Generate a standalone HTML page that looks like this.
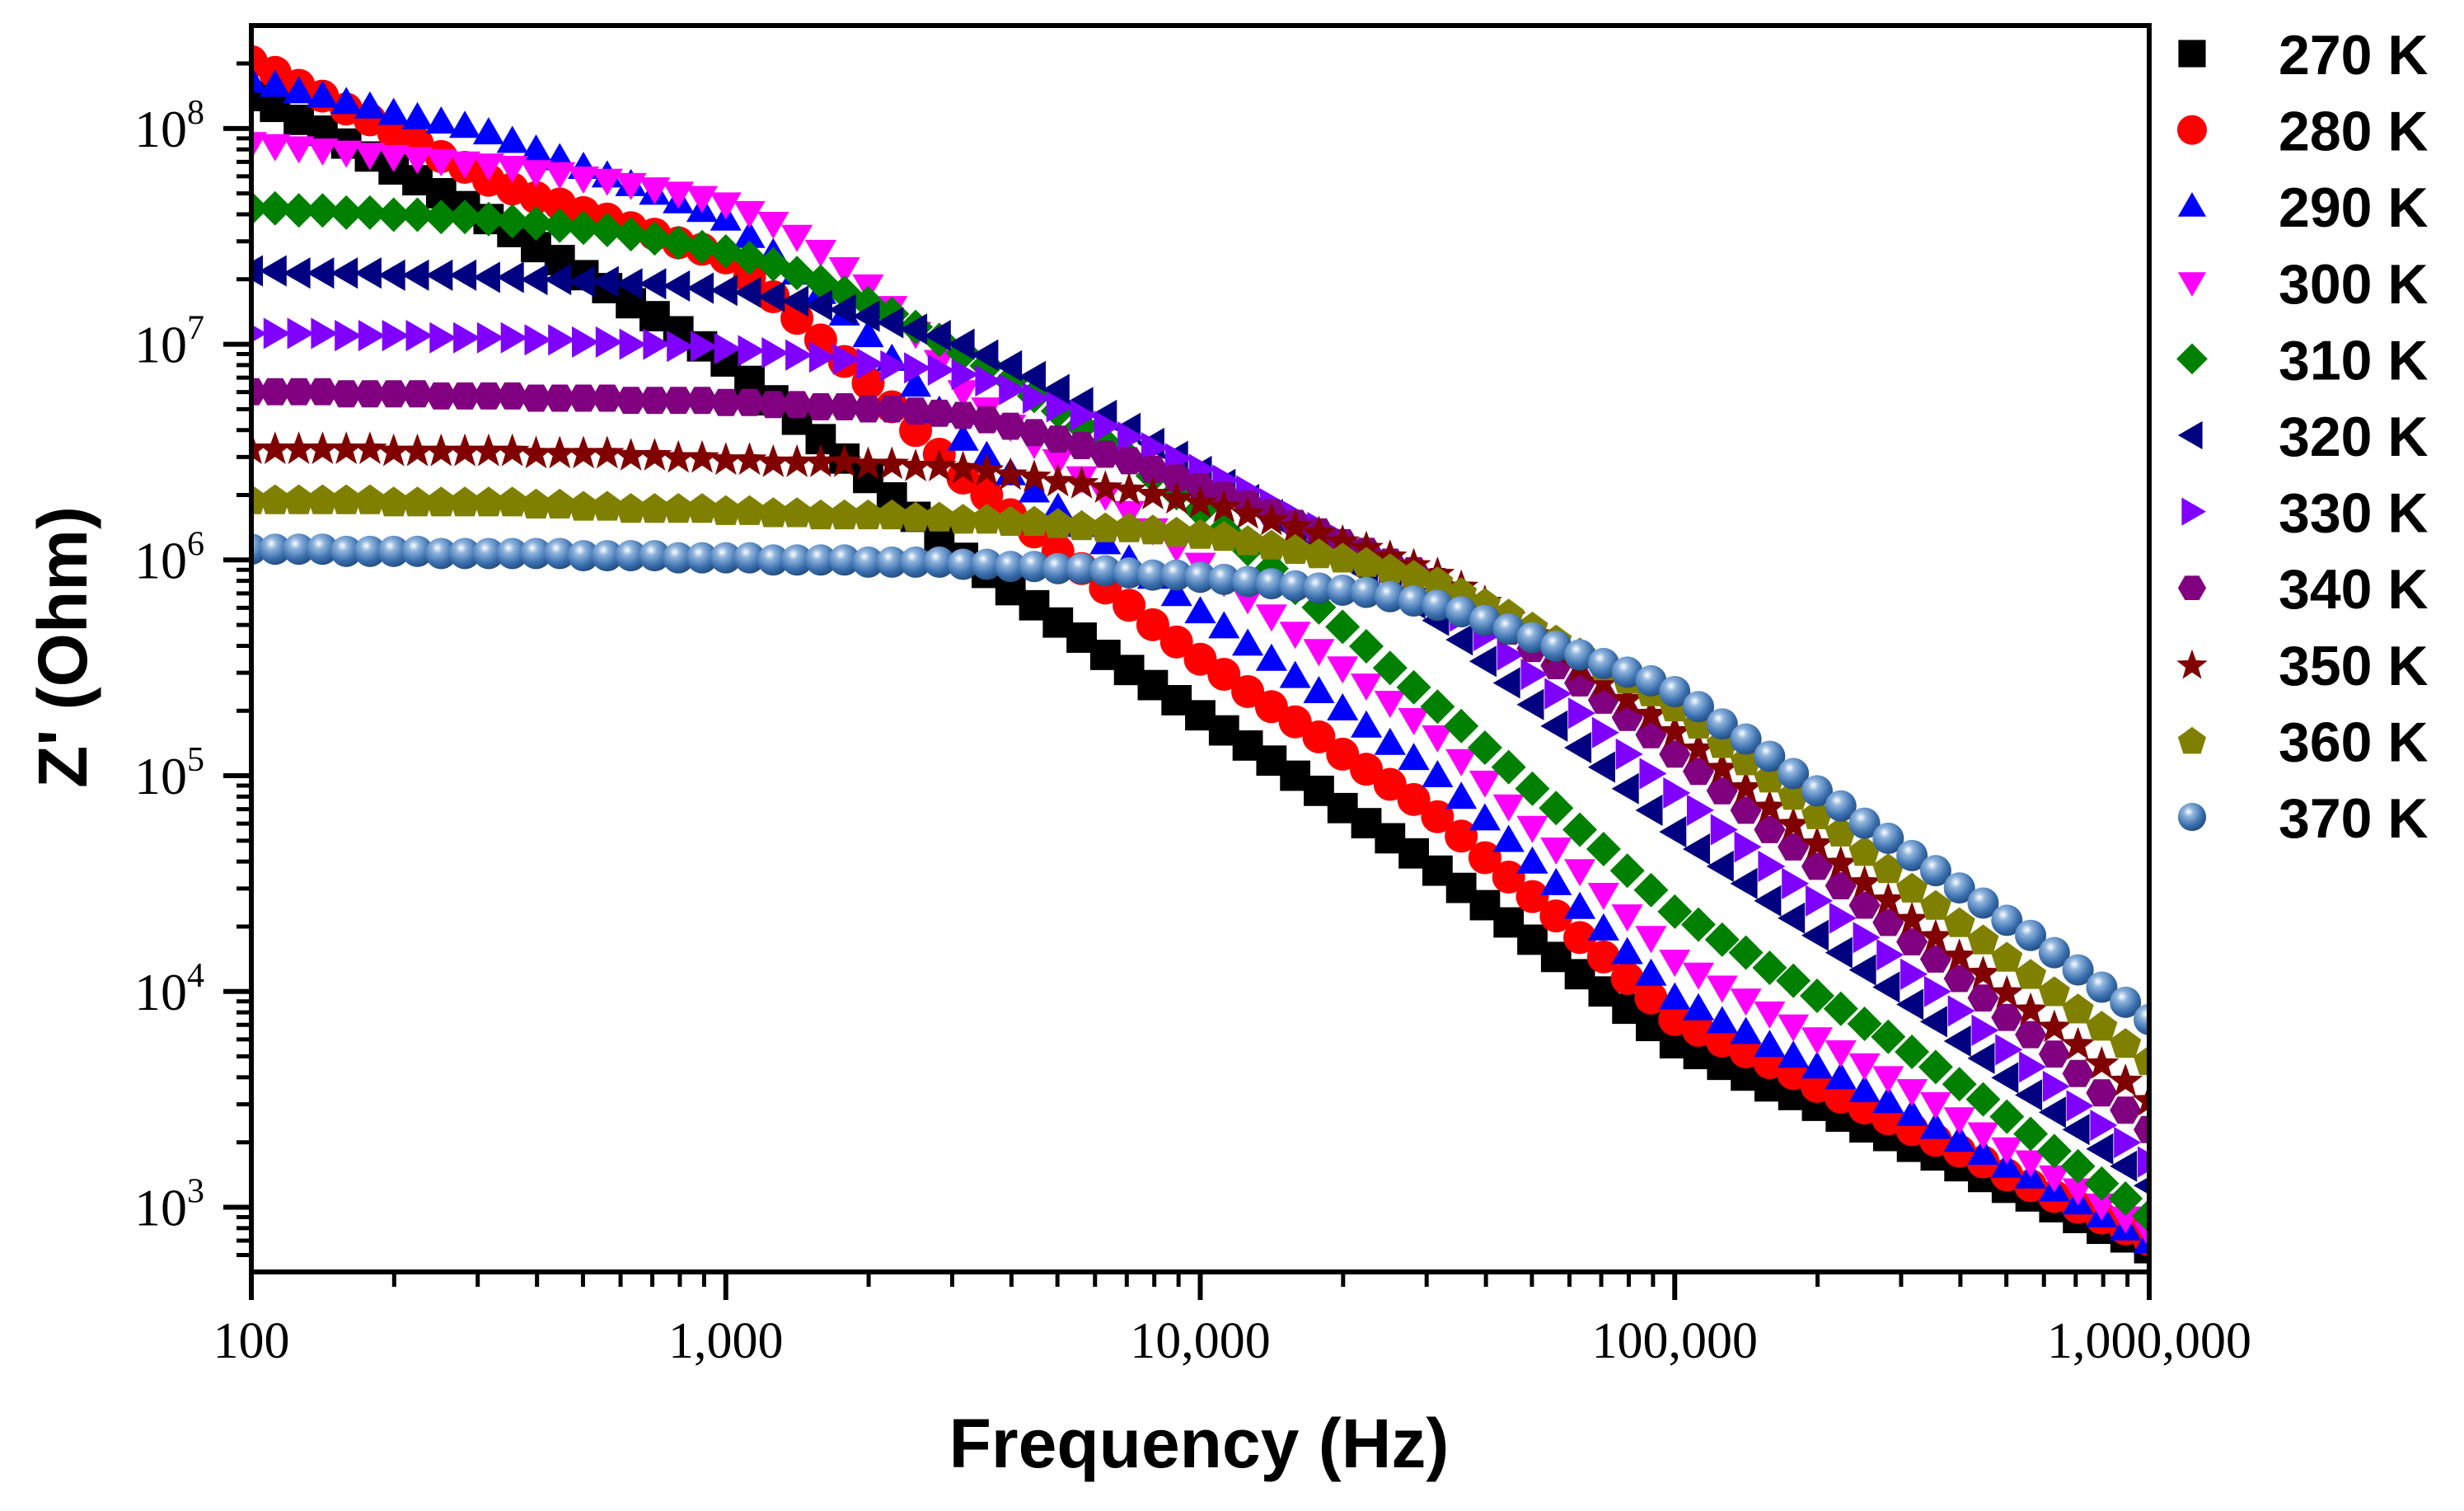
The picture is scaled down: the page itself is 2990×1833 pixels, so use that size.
<!DOCTYPE html>
<html><head><meta charset="utf-8"><style>
html,body{margin:0;padding:0;background:#fff;}
svg{display:block;}
</style></head><body>
<svg id="chart" width="2990" height="1833" viewBox="0 0 2990 1833" xmlns="http://www.w3.org/2000/svg">
<defs>
<radialGradient id="sph" cx="0.38" cy="0.32" r="0.7">
<stop offset="0" stop-color="#ffffff"/><stop offset="0.25" stop-color="#8fb4dd"/><stop offset="0.7" stop-color="#3a6fae"/><stop offset="1" stop-color="#234d80"/>
</radialGradient>
</defs>
<g id="plot"></g>
<g id="axes"></g>
<g id="legend"></g>
<text x="1455" y="1780" text-anchor="middle" font-family="Liberation Sans, sans-serif" font-weight="bold" font-size="84">Frequency (Hz)</text>
<text transform="translate(105,785) rotate(-90)" text-anchor="middle" font-family="Liberation Sans, sans-serif" font-weight="bold" font-size="84">Z' (Ohm)</text>
</svg>
<script>
// ---- data (log10 frequency grid start/step; log10 Z' values) ----
const freqLogStart = 2.0;
const freqLogStep = 0.05;
const seriesLabels = ["270 K","280 K","290 K","300 K","310 K","320 K","330 K","340 K","350 K","360 K","370 K"];
const z270 = [8.15,8.10,8.04,7.99,7.93,7.87,7.81,7.76,7.70,7.64,7.58,7.52,7.45,7.39,7.32,7.26,7.19,7.13,7.06,6.99,6.92,6.83,6.74,6.65,6.56,6.47,6.38,6.29,6.20,6.11,6.01,5.94,5.86,5.79,5.71,5.64,5.56,5.49,5.42,5.35,5.28,5.21,5.14,5.07,5.00,4.93,4.85,4.78,4.71,4.64,4.56,4.48,4.40,4.32,4.24,4.16,4.08,4.00,3.92,3.84,3.76,3.71,3.66,3.61,3.56,3.52,3.47,3.42,3.37,3.33,3.28,3.24,3.19,3.14,3.09,3.05,3.00,2.95,2.90,2.86,2.81];
const z280 = [8.31,8.26,8.20,8.15,8.09,8.04,7.98,7.93,7.87,7.82,7.76,7.72,7.68,7.65,7.61,7.58,7.54,7.51,7.47,7.44,7.40,7.31,7.22,7.12,7.02,6.92,6.82,6.71,6.60,6.49,6.38,6.30,6.21,6.13,6.04,5.96,5.87,5.79,5.70,5.62,5.54,5.47,5.39,5.32,5.25,5.18,5.10,5.03,4.96,4.89,4.81,4.72,4.62,4.53,4.44,4.35,4.25,4.16,4.06,3.97,3.87,3.82,3.77,3.72,3.67,3.62,3.56,3.51,3.46,3.41,3.36,3.31,3.26,3.21,3.15,3.10,3.05,3.00,2.95,2.90,2.85];
const z290 = [8.22,8.20,8.17,8.15,8.12,8.10,8.07,8.05,8.03,8.01,7.98,7.94,7.90,7.86,7.82,7.78,7.74,7.70,7.66,7.62,7.58,7.50,7.42,7.33,7.24,7.14,7.04,6.93,6.81,6.69,6.56,6.48,6.40,6.32,6.24,6.16,6.08,6.00,5.92,5.84,5.76,5.69,5.61,5.54,5.46,5.39,5.31,5.23,5.15,5.08,5.00,4.90,4.80,4.70,4.60,4.50,4.39,4.29,4.18,4.08,3.97,3.92,3.86,3.81,3.75,3.70,3.65,3.60,3.54,3.49,3.43,3.37,3.31,3.25,3.19,3.14,3.08,3.02,2.96,2.90,2.84];
const z300 = [7.93,7.92,7.91,7.90,7.89,7.88,7.87,7.86,7.85,7.84,7.83,7.82,7.80,7.79,7.77,7.76,7.74,7.72,7.70,7.68,7.65,7.61,7.56,7.50,7.43,7.35,7.27,7.17,7.05,6.92,6.78,6.70,6.62,6.54,6.46,6.38,6.30,6.22,6.14,6.06,5.98,5.90,5.82,5.74,5.66,5.58,5.50,5.42,5.34,5.26,5.18,5.07,4.97,4.86,4.76,4.66,4.56,4.45,4.35,4.25,4.14,4.08,4.02,3.96,3.90,3.84,3.78,3.72,3.66,3.60,3.54,3.48,3.41,3.34,3.27,3.21,3.14,3.08,3.01,2.95,2.88];
const z310 = [7.63,7.63,7.62,7.62,7.61,7.61,7.60,7.60,7.59,7.59,7.58,7.57,7.56,7.55,7.54,7.53,7.51,7.49,7.47,7.45,7.43,7.40,7.37,7.33,7.29,7.24,7.19,7.14,7.08,7.02,6.96,6.90,6.83,6.76,6.69,6.62,6.54,6.47,6.39,6.31,6.23,6.14,6.05,5.96,5.87,5.78,5.69,5.60,5.50,5.41,5.32,5.23,5.13,5.04,4.94,4.85,4.75,4.66,4.56,4.47,4.37,4.31,4.24,4.18,4.11,4.05,3.98,3.92,3.85,3.79,3.72,3.65,3.57,3.50,3.42,3.34,3.26,3.19,3.11,3.04,2.96];
const z320 = [7.34,7.34,7.33,7.33,7.33,7.33,7.32,7.32,7.32,7.32,7.31,7.31,7.30,7.30,7.29,7.29,7.28,7.28,7.27,7.26,7.25,7.24,7.22,7.20,7.18,7.16,7.13,7.10,7.07,7.04,7.00,6.95,6.90,6.85,6.79,6.73,6.67,6.61,6.54,6.48,6.41,6.35,6.28,6.21,6.14,6.08,6.01,5.94,5.87,5.80,5.72,5.63,5.53,5.43,5.33,5.23,5.13,5.04,4.94,4.84,4.74,4.66,4.58,4.50,4.42,4.34,4.26,4.18,4.10,4.02,3.94,3.86,3.77,3.69,3.60,3.52,3.44,3.36,3.27,3.19,3.10];
const z330 = [7.05,7.05,7.05,7.05,7.04,7.04,7.04,7.04,7.03,7.03,7.03,7.03,7.02,7.02,7.01,7.01,7.00,7.00,6.99,6.99,6.98,6.97,6.96,6.95,6.94,6.93,6.91,6.90,6.89,6.88,6.86,6.83,6.79,6.75,6.71,6.67,6.62,6.57,6.52,6.47,6.42,6.37,6.32,6.26,6.20,6.15,6.09,6.03,5.96,5.90,5.83,5.74,5.65,5.56,5.47,5.38,5.29,5.20,5.10,5.01,4.92,4.84,4.75,4.67,4.58,4.50,4.42,4.34,4.25,4.17,4.08,4.00,3.91,3.82,3.73,3.65,3.56,3.47,3.38,3.30,3.21];
const z340 = [6.78,6.78,6.78,6.78,6.77,6.77,6.77,6.77,6.76,6.76,6.76,6.76,6.75,6.75,6.75,6.75,6.74,6.74,6.74,6.74,6.73,6.73,6.72,6.72,6.71,6.71,6.70,6.70,6.69,6.68,6.67,6.65,6.62,6.59,6.56,6.53,6.49,6.46,6.42,6.38,6.34,6.30,6.26,6.22,6.17,6.13,6.08,6.04,5.99,5.95,5.90,5.83,5.75,5.67,5.59,5.51,5.43,5.35,5.27,5.19,5.10,5.02,4.93,4.84,4.75,4.67,4.58,4.49,4.40,4.32,4.23,4.15,4.06,3.97,3.88,3.80,3.71,3.62,3.53,3.45,3.36];
const z350 = [6.52,6.52,6.52,6.52,6.52,6.52,6.51,6.51,6.51,6.51,6.51,6.51,6.50,6.50,6.50,6.50,6.49,6.49,6.48,6.48,6.47,6.47,6.46,6.46,6.46,6.46,6.45,6.45,6.44,6.44,6.43,6.42,6.40,6.39,6.37,6.36,6.34,6.33,6.31,6.29,6.27,6.25,6.22,6.19,6.16,6.13,6.09,6.06,6.02,5.98,5.94,5.88,5.81,5.74,5.66,5.59,5.51,5.44,5.36,5.29,5.21,5.13,5.04,4.95,4.86,4.78,4.69,4.60,4.51,4.43,4.34,4.26,4.17,4.09,4.00,3.92,3.84,3.76,3.67,3.59,3.50];
const z360 = [6.28,6.28,6.28,6.28,6.28,6.28,6.27,6.27,6.27,6.27,6.27,6.27,6.26,6.26,6.25,6.25,6.24,6.24,6.24,6.24,6.23,6.23,6.22,6.22,6.21,6.21,6.21,6.21,6.20,6.20,6.19,6.19,6.18,6.18,6.17,6.16,6.15,6.15,6.14,6.13,6.12,6.11,6.09,6.07,6.05,6.03,6.01,5.99,5.96,5.93,5.90,5.85,5.80,5.75,5.69,5.63,5.57,5.51,5.45,5.39,5.32,5.24,5.15,5.07,4.99,4.91,4.82,4.74,4.65,4.57,4.48,4.40,4.32,4.24,4.16,4.08,4.00,3.92,3.84,3.76,3.68];
const z370 = [6.05,6.05,6.05,6.05,6.04,6.04,6.04,6.04,6.03,6.03,6.03,6.03,6.03,6.03,6.02,6.02,6.02,6.02,6.01,6.01,6.01,6.01,6.00,6.00,6.00,6.00,5.99,5.99,5.99,5.99,5.98,5.98,5.97,5.97,5.96,5.96,5.95,5.94,5.93,5.93,5.92,5.91,5.90,5.89,5.88,5.87,5.86,5.85,5.83,5.81,5.79,5.76,5.72,5.68,5.64,5.60,5.56,5.52,5.48,5.44,5.39,5.32,5.24,5.17,5.09,5.01,4.93,4.86,4.78,4.71,4.63,4.56,4.48,4.41,4.33,4.26,4.18,4.10,4.02,3.95,3.87];
const xTickLabels = ["100","1,000","10,000","100,000","1,000,000"];
const yTickExps = ["3","4","5","6","7","8"];

const allSeries = [z270,z280,z290,z300,z310,z320,z330,z340,z350,z360,z370];
const colors = ["#000000","#ff0000","#0000ff","#ff00ff","#008000","#000080","#8000ff","#800080","#800000","#808000","url(#sph)"];
const shapes = ["square","circle","up","down","diamond","left","right","hexagon","star","pentagon","sphere"];

const NS = "http://www.w3.org/2000/svg";
const L = 305, R = 2608, T = 31, B = 1543;
const xMin = 2, xMax = 6, yMin = 2.70, yMax = 8.477;
function xs(lf){ return L + (lf - xMin) / (xMax - xMin) * (R - L); }
function ys(lz){ return B - (lz - yMin) / (yMax - yMin) * (B - T); }

function mk(tag, attrs, parent){
  const e = document.createElementNS(NS, tag);
  for (const k in attrs) e.setAttribute(k, attrs[k]);
  parent.appendChild(e);
  return e;
}
function poly(cx, cy, r, n, rot){
  const p = [];
  for (let i = 0; i < n; i++){ const a = rot + i * 2 * Math.PI / n; p.push((cx + r*Math.cos(a)).toFixed(1) + "," + (cy + r*Math.sin(a)).toFixed(1)); }
  return p.join(" ");
}
function marker(shape, color, cx, cy, s, parent){
  const h = s / 2;
  let el;
  if (shape === "square") el = mk("rect", {x: cx-h*0.92, y: cy-h*0.92, width: s*0.92, height: s*0.92, fill: color}, parent);
  else if (shape === "circle") el = mk("circle", {cx: cx, cy: cy, r: h, fill: color}, parent);
  else if (shape === "sphere") el = mk("circle", {cx: cx, cy: cy, r: h*0.95, fill: color}, parent);
  else if (shape === "up") el = mk("polygon", {points: poly(cx, cy+h*0.15, h*1.1, 3, -Math.PI/2), fill: color}, parent);
  else if (shape === "down") el = mk("polygon", {points: poly(cx, cy-h*0.15, h*1.1, 3, Math.PI/2), fill: color}, parent);
  else if (shape === "left") el = mk("polygon", {points: poly(cx+h*0.15, cy, h*1.1, 3, Math.PI), fill: color}, parent);
  else if (shape === "right") el = mk("polygon", {points: poly(cx-h*0.15, cy, h*1.1, 3, 0), fill: color}, parent);
  else if (shape === "diamond") el = mk("polygon", {points: poly(cx, cy, h*1.05, 4, 0), fill: color}, parent);
  else if (shape === "hexagon") el = mk("polygon", {points: poly(cx, cy, h*0.95, 6, 0), fill: color}, parent);
  else if (shape === "pentagon") el = mk("polygon", {points: poly(cx, cy+h*0.08, h*1.0, 5, -Math.PI/2), fill: color}, parent);
  else if (shape === "star"){
    const p = [];
    for (let i = 0; i < 10; i++){ const rr = i % 2 ? h*0.45 : h*1.1; const a = -Math.PI/2 + i*Math.PI/5; p.push((cx + rr*Math.cos(a)).toFixed(1) + "," + (cy + h*0.1 + rr*Math.sin(a)).toFixed(1)); }
    el = mk("polygon", {points: p.join(" "), fill: color}, parent);
  }
  return el;
}

const plot = document.getElementById("plot");
const clip = mk("clipPath", {id: "pc"}, document.querySelector("defs"));
mk("rect", {x: L, y: T, width: R-L, height: B-T}, clip);
plot.setAttribute("clip-path", "url(#pc)");
allSeries.forEach((ser, si) => {
  const g = mk("g", {}, plot);
  
  
  ser.forEach((v, i) => {
    const m = marker(shapes[si], colors[si], xs(freqLogStart + i*freqLogStep), ys(v), 40, g);
    
    
  });
});

// axes
const ax = document.getElementById("axes");
const frame = mk("rect", {x: L, y: T, width: R-L, height: B-T, fill: "none", stroke: "#000", "stroke-width": 6}, ax);


for (let d = 2; d <= 6; d++){
  const x = xs(d);
  mk("line", {x1: x, y1: B, x2: x, y2: B+34, stroke: "#000", "stroke-width": 6}, ax);
  const t = mk("text", {x: x, y: 1647, "text-anchor": "middle", "font-family": "Liberation Serif, serif", "font-size": 62}, ax);
  t.textContent = xTickLabels[d-2];
  
  
  if (d < 6) for (let k = 2; k <= 9; k++){
    const xm = xs(d + Math.log10(k));
    mk("line", {x1: xm, y1: B, x2: xm, y2: B+18, stroke: "#000", "stroke-width": 5}, ax);
  }
}
for (let d = 2; d <= 8; d++){
  if (d >= 3){
    const y = ys(d);
    mk("line", {x1: L, y1: y, x2: L-34, y2: y, stroke: "#000", "stroke-width": 6}, ax);
    const t = mk("text", {x: 248, y: y+22, "text-anchor": "end", "font-family": "Liberation Serif, serif", "font-size": 64}, ax);
    
    
    const b = document.createElementNS(NS, "tspan"); b.textContent = "10"; t.appendChild(b);
    const s = document.createElementNS(NS, "tspan"); s.setAttribute("dy", "-28"); s.setAttribute("font-size", "42"); s.textContent = yTickExps[d-3]; t.appendChild(s);
  }
  for (let k = 2; k <= 9; k++){
    const lv = d + Math.log10(k);
    if (lv < yMin || lv > yMax) continue;
    const ym = ys(lv);
    mk("line", {x1: L, y1: ym, x2: L-18, y2: ym, stroke: "#000", "stroke-width": 5}, ax);
  }
}

// legend
const lg = document.getElementById("legend");
seriesLabels.forEach((lab, i) => {
  const y = 65 + i * 92.6;
  const g = mk("g", {}, lg);
  
  
  marker(shapes[i], colors[i], 2660, y, 36, g);
  const t = mk("text", {x: 2765, y: y+25, "font-family": "Liberation Sans, sans-serif", "font-weight": "bold", "font-size": 68}, g);
  t.textContent = lab;
});
</script>
</body></html>
